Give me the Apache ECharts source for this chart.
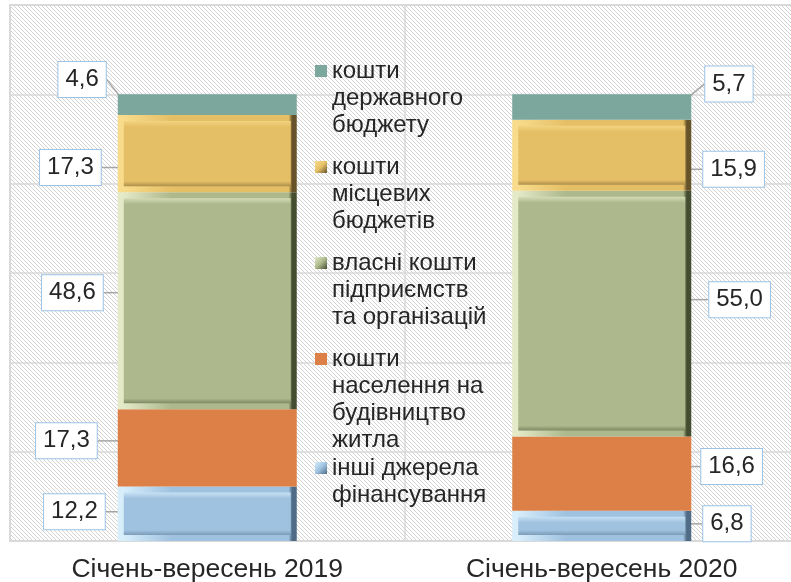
<!DOCTYPE html>
<html><head><meta charset="utf-8">
<script src="https://cdn.jsdelivr.net/npm/echarts@6/dist/echarts.min.js"></script>
<style>html,body{margin:0;padding:0;background:#fff}#c{width:791px;height:582px}</style>
</head><body><div id="c"></div>
<script>
// ---- data ----
const categories = ['Січень-вересень 2019', 'Січень-вересень 2020'];
const seriesNames = [
  'інші джерела\nфінансування',
  'кошти\nнаселення на\nбудівництво\nжитла',
  'власні кошти\nпідприємств\nта організацій',
  'кошти\nмісцевих\nбюджетів',
  'кошти\nдержавного\nбюджету'
];
const otherSources = [12.2, 6.8];
const households = [17.3, 16.6];
const enterprises = [48.6, 55.0];
const localBudgets = [17.3, 15.9];
const stateBudget = [4.6, 5.7];

// ---- styles ----
const FONT = '"Liberation Sans", Arial, sans-serif';
const TXT = '#262626';
const colors = ['#9fc2e0', '#dd8047', '#adb88c', '#e5bf66', '#7ba79d'];
const bevel = [
  { light: '#d8eefb', dark: '#4f6b85' },
  null,
  { light: '#e4eac8', dark: '#454d30' },
  { light: '#f8dc8c', dark: '#66532a' },
  null
];
const labelDx = [[-1, 0], [-9, -2], [-3, 6], [-5, 0], [0, 2]];
const labelDy = [[-2, -2], [-7, -7], [-8, -14], [14, 14], [-25, -23]];
const labelDist = [12, 12];
const PX = 536 / 120;
const BW = 6;

function fillFor(s, v) {
  const b = bevel[s];
  if (!b) return { color: colors[s], borderWidth: BW, borderColor: colors[s] };
  const h = v * PX;
  const f = Math.min(0.45, 12 / h);
  const G = echarts.graphic.LinearGradient;
  return {
    color: new G(0, 0, 0, 1, [
      { offset: 0, color: b.light },
      { offset: f * 0.3, color: b.light },
      { offset: f, color: colors[s] },
      { offset: 1 - f * 0.9, color: colors[s] },
      { offset: 1, color: b.dark }
    ]),
    borderWidth: BW,
    borderColor: new G(0, 0, 1, 0, [
      { offset: 0, color: b.light },
      { offset: 0.03, color: b.light },
      { offset: 0.3, color: colors[s] },
      { offset: 0.955, color: colors[s] },
      { offset: 0.975, color: b.dark },
      { offset: 1, color: b.dark }
    ])
  };
}

// hatch pattern
const pc = document.createElement('canvas');
pc.width = 4; pc.height = 4;
const pctx = pc.getContext('2d');
pctx.fillStyle = '#ffffff'; pctx.fillRect(0, 0, 4, 4);
pctx.fillStyle = '#d3d3d3';
for (let i = 0; i < 4; i++) pctx.fillRect(i, i, 1, 1);

const values = [otherSources, households, enterprises, localBudgets, stateBudget];

const rich = {
  f: { fontSize: 24, lineHeight: 27, fontFamily: FONT, color: TXT, padding: [0, 0, 0, 5], verticalAlign: 'middle' },
  r: { fontSize: 24, lineHeight: 27, fontFamily: FONT, color: TXT, padding: [0, 0, 0, 17], verticalAlign: 'middle' }
};
colors.forEach((c, i) => {
  const b = bevel[i];
  rich['m' + i] = {
    width: 12, height: 12, verticalAlign: 'middle',
    backgroundColor: b ? new echarts.graphic.LinearGradient(0, 0, 1, 1, [
      { offset: 0, color: b.light }, { offset: 0.5, color: c }, { offset: 1, color: b.dark }
    ]) : c
  };
});
function legendFmt(name) {
  const i = seriesNames.indexOf(name);
  return name.split('\n').map((l, k) => k === 0 ? `{m${i}|}{f|${l}}` : `{r|${l}}`).join('\n');
}
const legendBase = {
  orient: 'vertical', left: 304, itemWidth: 1, itemHeight: 1, icon: 'rect',
  itemStyle: { opacity: 0 }, selectedMode: false, itemGap: 18,
  formatter: legendFmt,
  textStyle: { fontSize: 24, fontFamily: FONT, color: TXT, rich: rich }
};

const chart = echarts.init(document.getElementById('c'), null, { renderer: 'canvas' });
chart.setOption({
  animation: false,
  textStyle: { fontFamily: FONT },
  grid: {
    left: 10, right: -8, top: 5, bottom: 41, show: true,
    containLabel: false, outerBoundsMode: 'none',
    backgroundColor: { image: pc, repeat: 'repeat' },
    borderColor: '#d9d9d9', borderWidth: 2
  },
  legend: [
    Object.assign({}, legendBase, { top: 54, data: [seriesNames[4], seriesNames[3], seriesNames[2], seriesNames[1]] }),
    Object.assign({}, legendBase, { top: 451, data: [seriesNames[0]] })
  ],
  xAxis: {
    type: 'category', data: categories,
    axisLine: { lineStyle: { color: '#d9d9d9', width: 2 } },
    axisTick: { show: false },
    splitLine: { show: true, lineStyle: { color: '#d9d9d9', width: 1.5 } },
    axisLabel: { fontSize: 26.5, color: TXT, fontFamily: FONT, margin: 15, interval: 0 }
  },
  yAxis: {
    type: 'value', min: 0, max: 120, interval: 20,
    axisLabel: { show: false }, axisLine: { show: false }, axisTick: { show: false },
    splitLine: { lineStyle: { color: '#d9d9d9', width: 1.5 } }
  },
  series: values.map((vals, s) => ({
    type: 'bar', name: seriesNames[s], stack: 'total', barWidth: 185 - BW,
    emphasis: { disabled: true },
    itemStyle: { color: colors[s] },
    data: vals.map((v, j) => ({
      value: v,
      itemStyle: fillFor(s, v),
      label: { position: j === 0 ? 'left' : 'right', distance: labelDist[j] }
    })),
    label: {
      show: true, fontSize: 24, fontFamily: FONT, color: TXT,
      backgroundColor: '#ffffff', borderColor: '#9dc3e6', borderWidth: 1,
      padding: [6, 7, 5, 7],
      formatter: p => p.value.toFixed(1).replace('.', ',')
    },
    labelLine: { show: true, lineStyle: { color: '#a6a6a6', width: 1.5 } },
    labelLayout: p => ({ dx: labelDx[p.seriesIndex][p.dataIndex], dy: labelDy[p.seriesIndex][p.dataIndex] })
  }))
});
</script></body></html>
